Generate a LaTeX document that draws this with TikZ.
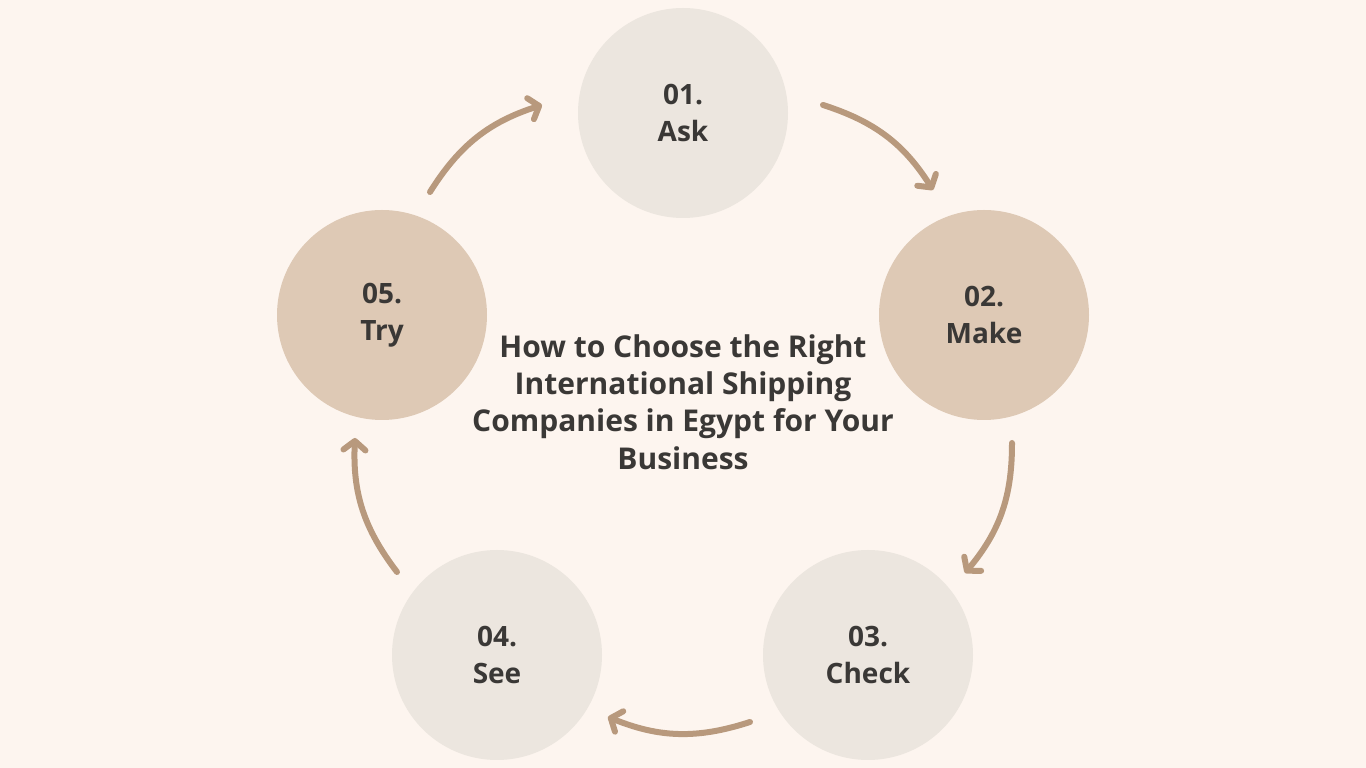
\documentclass[tikz,border=0pt]{standalone}
\usepackage{fontspec}
\setmainfont{Open Sans}
\usetikzlibrary{arrows.meta}
\definecolor{bg}{HTML}{FDF5EF}
\definecolor{lightc}{HTML}{ECE6DF}
\definecolor{darkc}{HTML}{DEC9B5}
\definecolor{arr}{HTML}{B8997D}
\definecolor{txt}{HTML}{3A3836}
\begin{document}
\begin{tikzpicture}[x=1pt,y=1pt,
  stepcircle/.style={circle,minimum size=210pt,inner sep=0pt,align=center,
    text=txt,font=\fontsize{28}{37.5}\selectfont\bfseries},
  flowarrow/.style={draw=arr,line width=6pt,line cap=round,
    -{Straight Barb[length=9pt,width=22pt,line cap=round,line join=round]}, bend left=20}
]
\fill[bg] (0,0) rectangle (1366,768);
\useasboundingbox (0,0) rectangle (1366,768);
\node[stepcircle,fill=lightc] (c1) at (683,655) {01.\\Ask};
\node[stepcircle,fill=darkc] (c2) at (984,453) {02.\\Make};
\node[stepcircle,fill=lightc] (c3) at (868,113) {03.\\Check};
\node[stepcircle,fill=lightc] (c4) at (497,113) {04.\\See};
\node[stepcircle,fill=darkc] (c5) at (382,453) {05.\\Try};
\node[align=center,text=txt,font=\fontsize{30}{37.3}\selectfont\bfseries] (title) at (683,366)
  {How to Choose the Right\\International Shipping\\Companies in Egypt for Your\\Business};
\coordinate (a1s) at (823,663); \coordinate (a1e) at (933,578);
\coordinate (a2s) at (1012,325); \coordinate (a2e) at (965,195);
\coordinate (a3s) at (750,46); \coordinate (a3e) at (608,51);
\coordinate (a4s) at (397,196); \coordinate (a4e) at (355,330);
\coordinate (a5s) at (430,576); \coordinate (a5e) at (542,663);
\draw[flowarrow] (a1s) to (a1e);
\draw[flowarrow] (a2s) to (a2e);
\draw[flowarrow] (a3s) to (a3e);
\draw[flowarrow] (a4s) to (a4e);
\draw[flowarrow] (a5s) to (a5e);
\end{tikzpicture}
\end{document}
